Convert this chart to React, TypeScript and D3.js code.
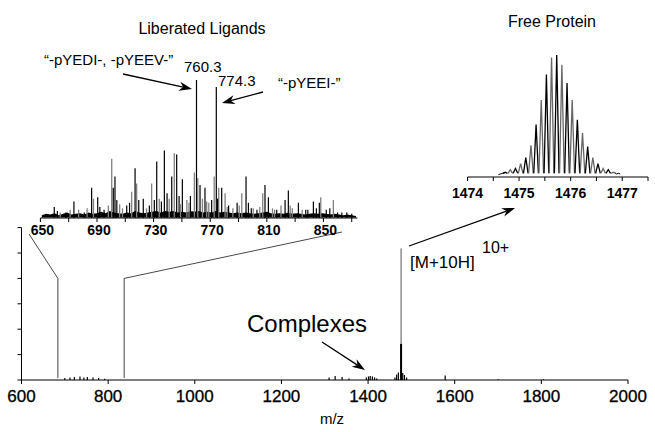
import React from 'react';
import * as d3 from 'd3';

// main spectrum, m/z 600-2000
const mainTicks = [600, 800, 1000, 1200, 1400, 1600, 1800, 2000];
const mainYTicks = [0, 1, 2, 3, 4, 5, 6];
const zoomMarks = [684, 837]; // bracket for the ligand inset
const zoomMarkLevel = 4.0;
const mainNoise: [number, number][] = [
  [700, 0.08], [712, 0.1], [722, 0.12], [735, 0.14], [744, 0.1], [752, 0.12], [765, 0.1], [778, 0.08], [792, 0.05],
  [1310, 0.1], [1324, 0.16], [1340, 0.12], [1356, 0.06], [1396, 0.1], [1401, 0.14], [1405, 0.16], [1410, 0.14],
  [1415, 0.1], [1420, 0.06], [1462, 0.1], [1466, 0.22], [1470, 0.3], [1480, 0.28], [1484, 0.2], [1489, 0.1],
  [1578, 0.18], [1700, 0.03], [1805, 0.03],
];
const proteinMz = 1476.2;
const proteinLevel = 5.18;
const proteinCore = 1.42;

// inset: liberated ligands, m/z 650-874
const ligTicks = [650, 670, 690, 710, 730, 750, 770, 790, 810, 830, 850, 870];
const ligLabels = [650, 690, 730, 770, 810, 850];
// [m/z, % of 760.3, gray?]
const ligPeaks: [number, number, number][] = [
  [659.8, 8, 0], [664, 4, 1], [668, 4, 0], [673.7, 12, 0], [677, 6, 1], [681, 4, 0], [686.2, 22, 0], [687.5, 14, 1],
  [690.5, 15, 0], [695, 6, 0], [698, 9, 1], [700.4, 43, 1], [701.5, 22, 0], [702.7, 30, 0], [704, 13, 0], [708, 7, 1],
  [711, 9, 0], [714.5, 19, 1], [716.9, 36, 0], [718, 25, 1], [719.5, 13, 0], [722.7, 14, 0], [725, 7, 1], [728.6, 25, 1],
  [730.5, 13, 0], [732.2, 41, 0], [734, 14, 1], [737.6, 49, 0], [739.5, 18, 0], [741, 14, 1], [742.8, 30, 0],
  [744.6, 47, 1], [746.3, 46, 0], [748, 16, 0], [750.3, 28, 0], [753.5, 13, 1], [756, 16, 0], [758.8, 33, 1],
  [760.3, 100, 0], [761.2, 29, 1], [762.8, 24, 0], [764.5, 14, 1], [766.3, 22, 0], [769, 11, 1], [771, 13, 0],
  [772.8, 30, 1], [774.3, 95, 0], [776, 22, 1], [778.1, 22, 0], [780.5, 18, 1], [783, 9, 0], [786, 7, 1], [789, 11, 0],
  [792.3, 18, 1], [795.3, 30, 0], [797, 11, 0], [800.4, 7, 1], [803, 6, 0], [807.1, 18, 1], [808.7, 24, 0],
  [811.1, 15, 0], [814, 7, 1], [817, 6, 0], [820, 9, 1], [822.9, 13, 0], [825.2, 20, 0], [828, 7, 1], [832.3, 11, 0],
  [835, 6, 1], [839, 6, 0], [842.9, 12, 0], [845, 7, 0], [847.1, 11, 0], [848.1, 15, 1], [852, 6, 0], [857, 13, 1],
  [860, 4, 0], [863, 4, 0], [866.5, 4, 0], [870, 3, 0],
  [662, 5, 0], [671, 6, 1], [683, 7, 1], [692, 8, 0], [706, 10, 1], [713, 11, 0], [727, 9, 0], [735.5, 12, 0],
  [749, 10, 1], [755, 11, 1], [767.5, 12, 1], [775.2, 14, 0], [782, 8, 1], [790.5, 9, 1], [799, 7, 0], [805, 8, 1],
  [815.5, 6, 1], [826.5, 9, 1], [837.5, 6, 0], [854.5, 7, 0],
];
const ligGrass: [number, number][] = [
  [651, 2], [654, 3], [657, 2.5], [660, 3.5], [663, 2], [666, 3], [669, 4], [672, 2.5], [675, 3], [678, 3.5],
  [681, 2.5], [684, 4], [687, 3], [690, 3.5], [693, 4.5], [696, 3.5], [699, 5], [702, 4], [705, 3.5], [708, 3],
  [711, 4], [714, 3.5], [717, 5], [720, 4], [723, 3.5], [726, 4], [729, 4.5], [732, 5], [735, 4], [738, 5],
  [741, 4.5], [744, 5], [747, 4], [750, 4.5], [753, 4], [756, 5], [759, 4.5], [762, 5], [765, 4], [768, 4.5],
  [771, 4], [774, 5], [777, 4], [780, 4.5], [783, 4], [786, 3.5], [789, 4], [792, 3.5], [795, 4], [798, 3.5],
  [801, 3], [804, 3.5], [807, 4], [810, 4.5], [813, 3.5], [816, 3], [819, 3.5], [822, 3], [825, 4], [828, 3],
  [831, 3.5], [834, 3], [837, 2.5], [840, 3], [843, 3.5], [846, 3], [849, 3.5], [852, 3], [855, 2.5], [858, 3],
  [861, 2.5], [864, 2], [867, 2.5], [870, 2], [873, 1.5],
];

// inset: free protein isotope envelope
const protTicks = [1474, 1474.5, 1475, 1475.5, 1476, 1476.5, 1477, 1477.5];
const protLabels = [1474, 1475, 1476, 1477];
const isoMz = [
  1474.73, 1474.83, 1474.93, 1475.03, 1475.13, 1475.23, 1475.33, 1475.43, 1475.53, 1475.63, 1475.73,
  1475.83, 1475.93, 1476.03, 1476.13, 1476.23, 1476.33, 1476.43, 1476.53, 1476.63, 1476.73, 1476.83,
];
const isoInt = [4, 6, 7, 11, 16, 26, 43, 63, 84, 98, 100, 92, 77, 63, 47, 36, 25, 16, 11, 7, 6, 4];
const protTail: [number, number][] = [
  [1474.6, 2], [1474.64, 2.5], [1474.68, 3], [1474.72, 3], [1476.85, 3.5], [1476.89, 2.5], [1476.93, 3], [1476.96, 2.5],
];

const font = "'Liberation Sans', Arial, sans-serif";

function Arrow({ x1, y1, x2, y2 }: { x1: number; y1: number; x2: number; y2: number }) {
  const a = Math.atan2(y2 - y1, x2 - x1);
  const L = 13, W = 4.5, N = 9;
  const ux = Math.cos(a), uy = Math.sin(a);
  const bx = x2 - ux * L, by = y2 - uy * L;
  const nx = x2 - ux * N, ny = y2 - uy * N;
  const p = [
    [x2, y2], [bx - uy * W, by + ux * W], [nx, ny], [bx + uy * W, by - ux * W],
  ].map(q => q.join(',')).join(' ');
  return (
    <g>
      <line x1={x1} y1={y1} x2={nx} y2={ny} stroke="#000" strokeWidth={1.3} />
      <polygon points={p} fill="#000" />
    </g>
  );
}

export default function App() {
  const mx = d3.scaleLinear().domain([600, 2000]).range([21.5, 628]);
  const my = d3.scaleLinear().domain([0, 6]).range([380, 227.6]);
  const lx = d3.scaleLinear().domain([650, 874]).range([40.4, 357.4]);
  const ly = d3.scaleLinear().domain([0, 100]).range([218, 80]);
  const px = d3.scaleLinear().domain([1474, 1477.5]).range([467.5, 648]);
  const py = d3.scaleLinear().domain([0, 100]).range([177, 55]);

  const grassArea = d3.area<[number, number]>()
    .x(d => lx(d[0]))
    .y0(ly(0) - 0.5)
    .y1(d => ly(d[1]));

  const isoPath = (m: number, v: number) =>
    d3.line<[number, number]>()
      .x(d => px(d[0]))
      .y(d => py(d[1]))([[m - 0.045, 3], [m, v], [m + 0.045, 3]]);

  const tailLine = d3.line<[number, number]>().x(d => px(d[0])).y(d => py(d[1]));

  return (
    <svg width={655} height={432} style={{ position: 'absolute', left: 0, top: 0, background: '#fff' }} fontFamily={font}>
      {/* main axes */}
      <line x1={mx(600)} x2={mx(2000)} y1={my(0)} y2={my(0)} stroke="#000" strokeWidth={1.2} />
      <line x1={mx(600)} x2={mx(600)} y1={my(0)} y2={my(6)} stroke="#000" strokeWidth={1} />
      {mainYTicks.map(t => (
        <line key={t} x1={mx(600) - 4} x2={mx(600)} y1={my(t)} y2={my(t)} stroke="#000" />
      ))}
      {mainTicks.map(t => (
        <g key={t}>
          <line x1={mx(t)} x2={mx(t)} y1={my(0)} y2={my(0) + 4} stroke="#000" />
          <text x={mx(t)} y={402} fontSize={17} textAnchor="middle" stroke="#000" strokeWidth={0.3}>{t}</text>
        </g>
      ))}
      <text x={332} y={424} fontSize={15} textAnchor="middle">m/z</text>

      {/* main spectrum */}
      {mainNoise.map(([m, v], i) => (
        <line key={i} x1={mx(m)} x2={mx(m)} y1={my(0)} y2={my(v)} stroke="#000" strokeWidth={1.2} />
      ))}
      {zoomMarks.map(m => (
        <line key={m} x1={mx(m)} x2={mx(m)} y1={my(0) - 2} y2={my(zoomMarkLevel)} stroke="#444" strokeWidth={1} />
      ))}
      <line x1={mx(proteinMz)} x2={mx(proteinMz)} y1={my(0)} y2={my(proteinLevel)} stroke="#555" strokeWidth={1} />
      <line x1={mx(proteinMz)} x2={mx(proteinMz)} y1={my(0)} y2={my(proteinCore)} stroke="#000" strokeWidth={2} />

      {/* zoom connectors */}
      <line x1={mx(zoomMarks[0])} y1={my(zoomMarkLevel)} x2={29} y2={234} stroke="#333" strokeWidth={0.9} />
      <line x1={mx(zoomMarks[1])} y1={my(zoomMarkLevel)} x2={342} y2={232} stroke="#333" strokeWidth={0.9} />

      {/* ligand inset */}
      <text x={202} y={34} fontSize={16} textAnchor="middle">Liberated Ligands</text>
      <path d={grassArea(ligGrass) || ''} fill="#000" />
      {ligPeaks.map(([m, v, g], i) => (
        <line key={i} x1={lx(m)} x2={lx(m)} y1={ly(0)} y2={ly(v)} stroke={g ? '#808080' : '#000'} strokeWidth={g ? 1.3 : 1.2} />
      ))}
      <line x1={lx(650)} x2={lx(874)} y1={ly(0)} y2={ly(0)} stroke="#000" strokeWidth={1.2} />
      {ligTicks.map(t => (
        <line key={t} x1={lx(t)} x2={lx(t)} y1={ly(0)} y2={ly(0) + 4} stroke="#000" />
      ))}
      {ligLabels.map(t => (
        <text key={t} x={lx(t) + 2} y={235} fontSize={14} fontWeight="bold" textAnchor="middle">{t}</text>
      ))}
      <text x={44} y={65} fontSize={15}>“-pYEDI-, -pYEEV-”</text>
      <text x={184} y={72} fontSize={15}>760.3</text>
      <text x={218} y={86} fontSize={15}>774.3</text>
      <text x={278} y={88} fontSize={15}>“-pYEEI-”</text>
      <Arrow x1={123} y1={74} x2={192} y2={89} />
      <Arrow x1={263} y1={92} x2={222} y2={103} />

      {/* free protein inset */}
      <text x={552} y={27} fontSize={16} textAnchor="middle">Free Protein</text>
      <path d={tailLine(protTail.slice(0, 4)) || ''} fill="none" stroke="#000" strokeWidth={1} />
      <path d={tailLine(protTail.slice(4)) || ''} fill="none" stroke="#000" strokeWidth={1} />
      {isoMz.map((m, i) => (
        <path key={m} d={isoPath(m, isoInt[i]) || ''} fill="none" stroke={i % 2 ? '#666' : '#000'} strokeWidth={1.3} />
      ))}
      <line x1={px(1474)} x2={px(1477.5)} y1={py(0)} y2={py(0)} stroke="#000" strokeWidth={1.2} />
      {protTicks.map(t => (
        <line key={t} x1={px(t)} x2={px(t)} y1={py(0)} y2={py(0) + 4} stroke="#000" />
      ))}
      {protLabels.map(t => (
        <text key={t} x={px(t)} y={198} fontSize={14} fontWeight="bold" textAnchor="middle">{t}</text>
      ))}

      {/* annotations */}
      <Arrow x1={409} y1={246} x2={515} y2={208} />
      <text x={410} y={268} fontSize={17}>[M+10H]</text>
      <text x={482} y={253} fontSize={16}>10+</text>
      <text x={247} y={332} fontSize={24}>Complexes</text>
      <Arrow x1={322} y1={342} x2={365} y2={370} />
    </svg>
  );
}
